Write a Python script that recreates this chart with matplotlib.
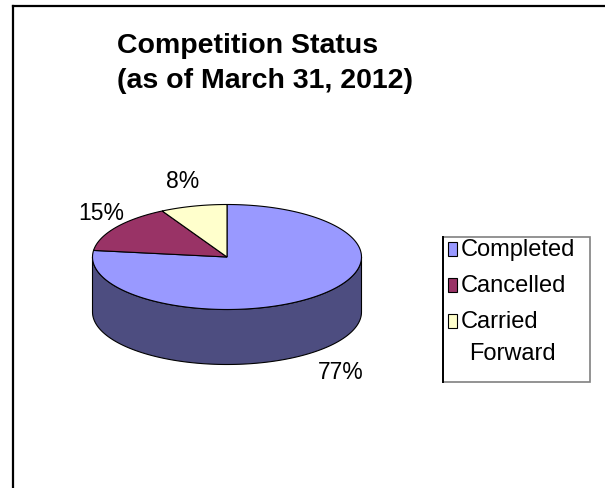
import numpy as np
import matplotlib.pyplot as plt
from matplotlib.patches import Polygon, Rectangle

plt.rcParams['font.family'] = ['Liberation Sans', 'DejaVu Sans']

# data
categories = ['Completed', 'Cancelled', 'Carried Forward']
legend_lines = [['Completed'], ['Cancelled'], ['Carried', 'Forward']]
shares = [77, 15, 8]
top_colors = ['#9999FF', '#993366', '#FFFFCC']
side_colors = ['#4D4D80', '#4D1A33', '#808066']

W, H = 605, 489
fig = plt.figure(figsize=(W / 100, H / 100), dpi=100)
ax = fig.add_axes([0, 0, 1, 1])
ax.set_xlim(0, W)
ax.set_ylim(H, 0)
ax.axis('off')

# chart frame (only left / top visible)
ax.plot([13, 13], [H + 5, 7], color='black', lw=1.6, solid_capstyle='projecting')
ax.plot([13, W + 5], [7, 7], color='black', lw=1.6, solid_capstyle='projecting')

# title
ax.text(117, 46, 'Competition Status', fontsize=20.5, fontweight='bold', va='center', ha='left')
ax.text(117, 81, '(as of March 31, 2012)', fontsize=20.5, fontweight='bold', va='center', ha='left')

# 3d pie geometry (pixels)
cx, cy = 227, 258
a, b = 134.5, 52.5
depth = 55

def pt(t, dz=0):
    t = np.radians(t)
    return cx + a * np.cos(t), cy - b * np.sin(t) + dz

fracs = np.array(shares) / np.sum(shares)
starts = 90 - 360 * np.concatenate([[0], np.cumsum(fracs)[:-1]])
ends = starts - 360 * fracs

# side walls (front half: angles 180..360)
for s, e, col in zip(starts, ends, side_colors):
    lo, hi = e, s
    for k in (-360, 0, 360):
        l2, h2 = max(lo + k, 180), min(hi + k, 360)
        if h2 <= l2:
            continue
        t = np.linspace(l2, h2, 120)
        top = np.array([pt(v) for v in t])
        bot = np.array([pt(v, depth) for v in t[::-1]])
        ax.add_patch(Polygon(np.vstack([top, bot]), closed=True, facecolor=col,
                             edgecolor='black', lw=0.8, zorder=2))

# top faces
for s, e, col in zip(starts, ends, top_colors):
    t = np.linspace(s, e, 200)
    arc = np.array([pt(v) for v in t])
    verts = np.vstack([[cx, cy], arc])
    ax.add_patch(Polygon(verts, closed=True, facecolor=col, edgecolor='black',
                         lw=0.8, zorder=3))

# data labels (box placed outside the slice edge)
for s, e, p in zip(starts, ends, shares):
    m = np.radians((s + e) / 2)
    x = cx + 5 + a * 0.97 * np.cos(m)
    y = cy - b * 1.5 * np.sin(m)
    if np.sin(m) < 0:
        y += depth
    ha = 'left' if np.cos(m) > 0 else 'right'
    ax.text(x, y, f'{p}%', fontsize=16.5, ha=ha, va='center', zorder=4)

# legend box
ax.add_patch(Rectangle((443, 238), 147, 145, facecolor='white', edgecolor='#808080',
                       lw=1.2, zorder=4))
ax.plot([443, 443], [238, 383], color='black', lw=1.4, zorder=5)
row_y = [250, 286, 322]
for lines, col, y in zip(legend_lines, top_colors, row_y):
    ax.add_patch(Rectangle((448, y - 7), 9, 14, facecolor=col, edgecolor='black',
                           lw=0.8, zorder=5))
    ax.text(461, y, lines[0], fontsize=17, ha='left', va='center', zorder=5)
    if len(lines) > 1:
        ax.text(469, y + 32, lines[1], fontsize=17, ha='left', va='center', zorder=5)

fig.savefig('out.png', dpi=100)
